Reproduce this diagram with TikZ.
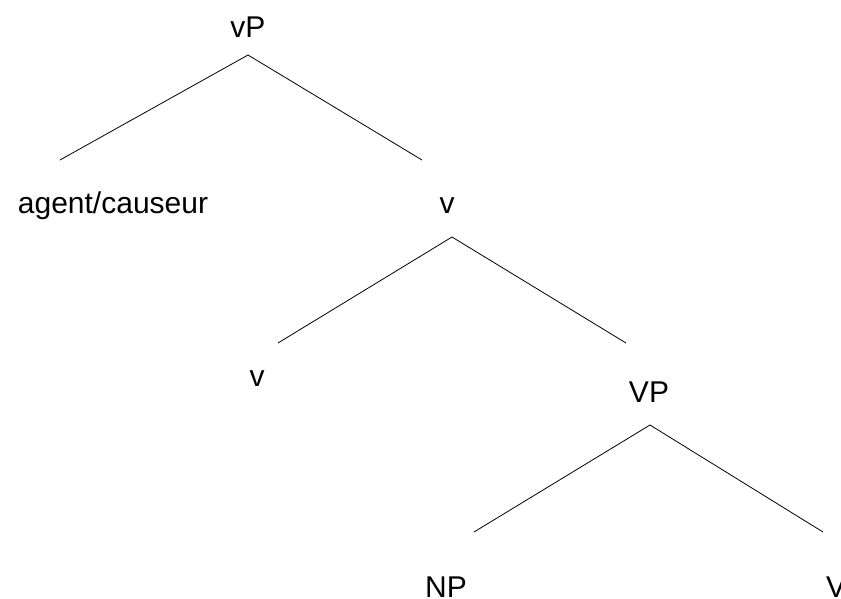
\documentclass[tikz,border=0pt]{standalone}
\usepackage{fontspec}
\setmainfont{Liberation Sans}
\usetikzlibrary{positioning}

\tikzset{lbl/.style={anchor=base,inner sep=0pt,font=\fontsize{30}{36}\selectfont},
branch/.style={line width=0.8pt,black}}

\begin{document}
\begin{tikzpicture}[x=1pt,y=-1pt]
\useasboundingbox (0,0) rectangle (841,599);
\clip (0,0) rectangle (841,599);
\node[lbl] (vP) at (248,38) {vP};
\node[lbl] (agent) at (113,213) {agent/causeur};
\node[lbl] (vbar) at (447,213) {v};
\node[lbl] (v) at (257,386) {v};
\node[lbl] (VP) at (649,402) {VP};
\node[lbl] (NP) at (446,597) {NP};
\node[lbl,anchor=base west] (V) at (826,597) {V};
% branches
\coordinate (vPtop) at (248,55);
\coordinate (agentend) at (60,160);
\coordinate (vbarend) at (422,160);
\coordinate (vbartop) at (452,237);
\coordinate (vend) at (278,343);
\coordinate (VPend) at (626,343);
\coordinate (VPtop) at (650,425);
\coordinate (NPend) at (474,532);
\coordinate (Vend) at (823,532);
\draw[branch] (agentend) -- (vPtop) -- (vbarend);
\draw[branch] (vend) -- (vbartop) -- (VPend);
\draw[branch] (NPend) -- (VPtop) -- (Vend);
\end{tikzpicture}
\end{document}
